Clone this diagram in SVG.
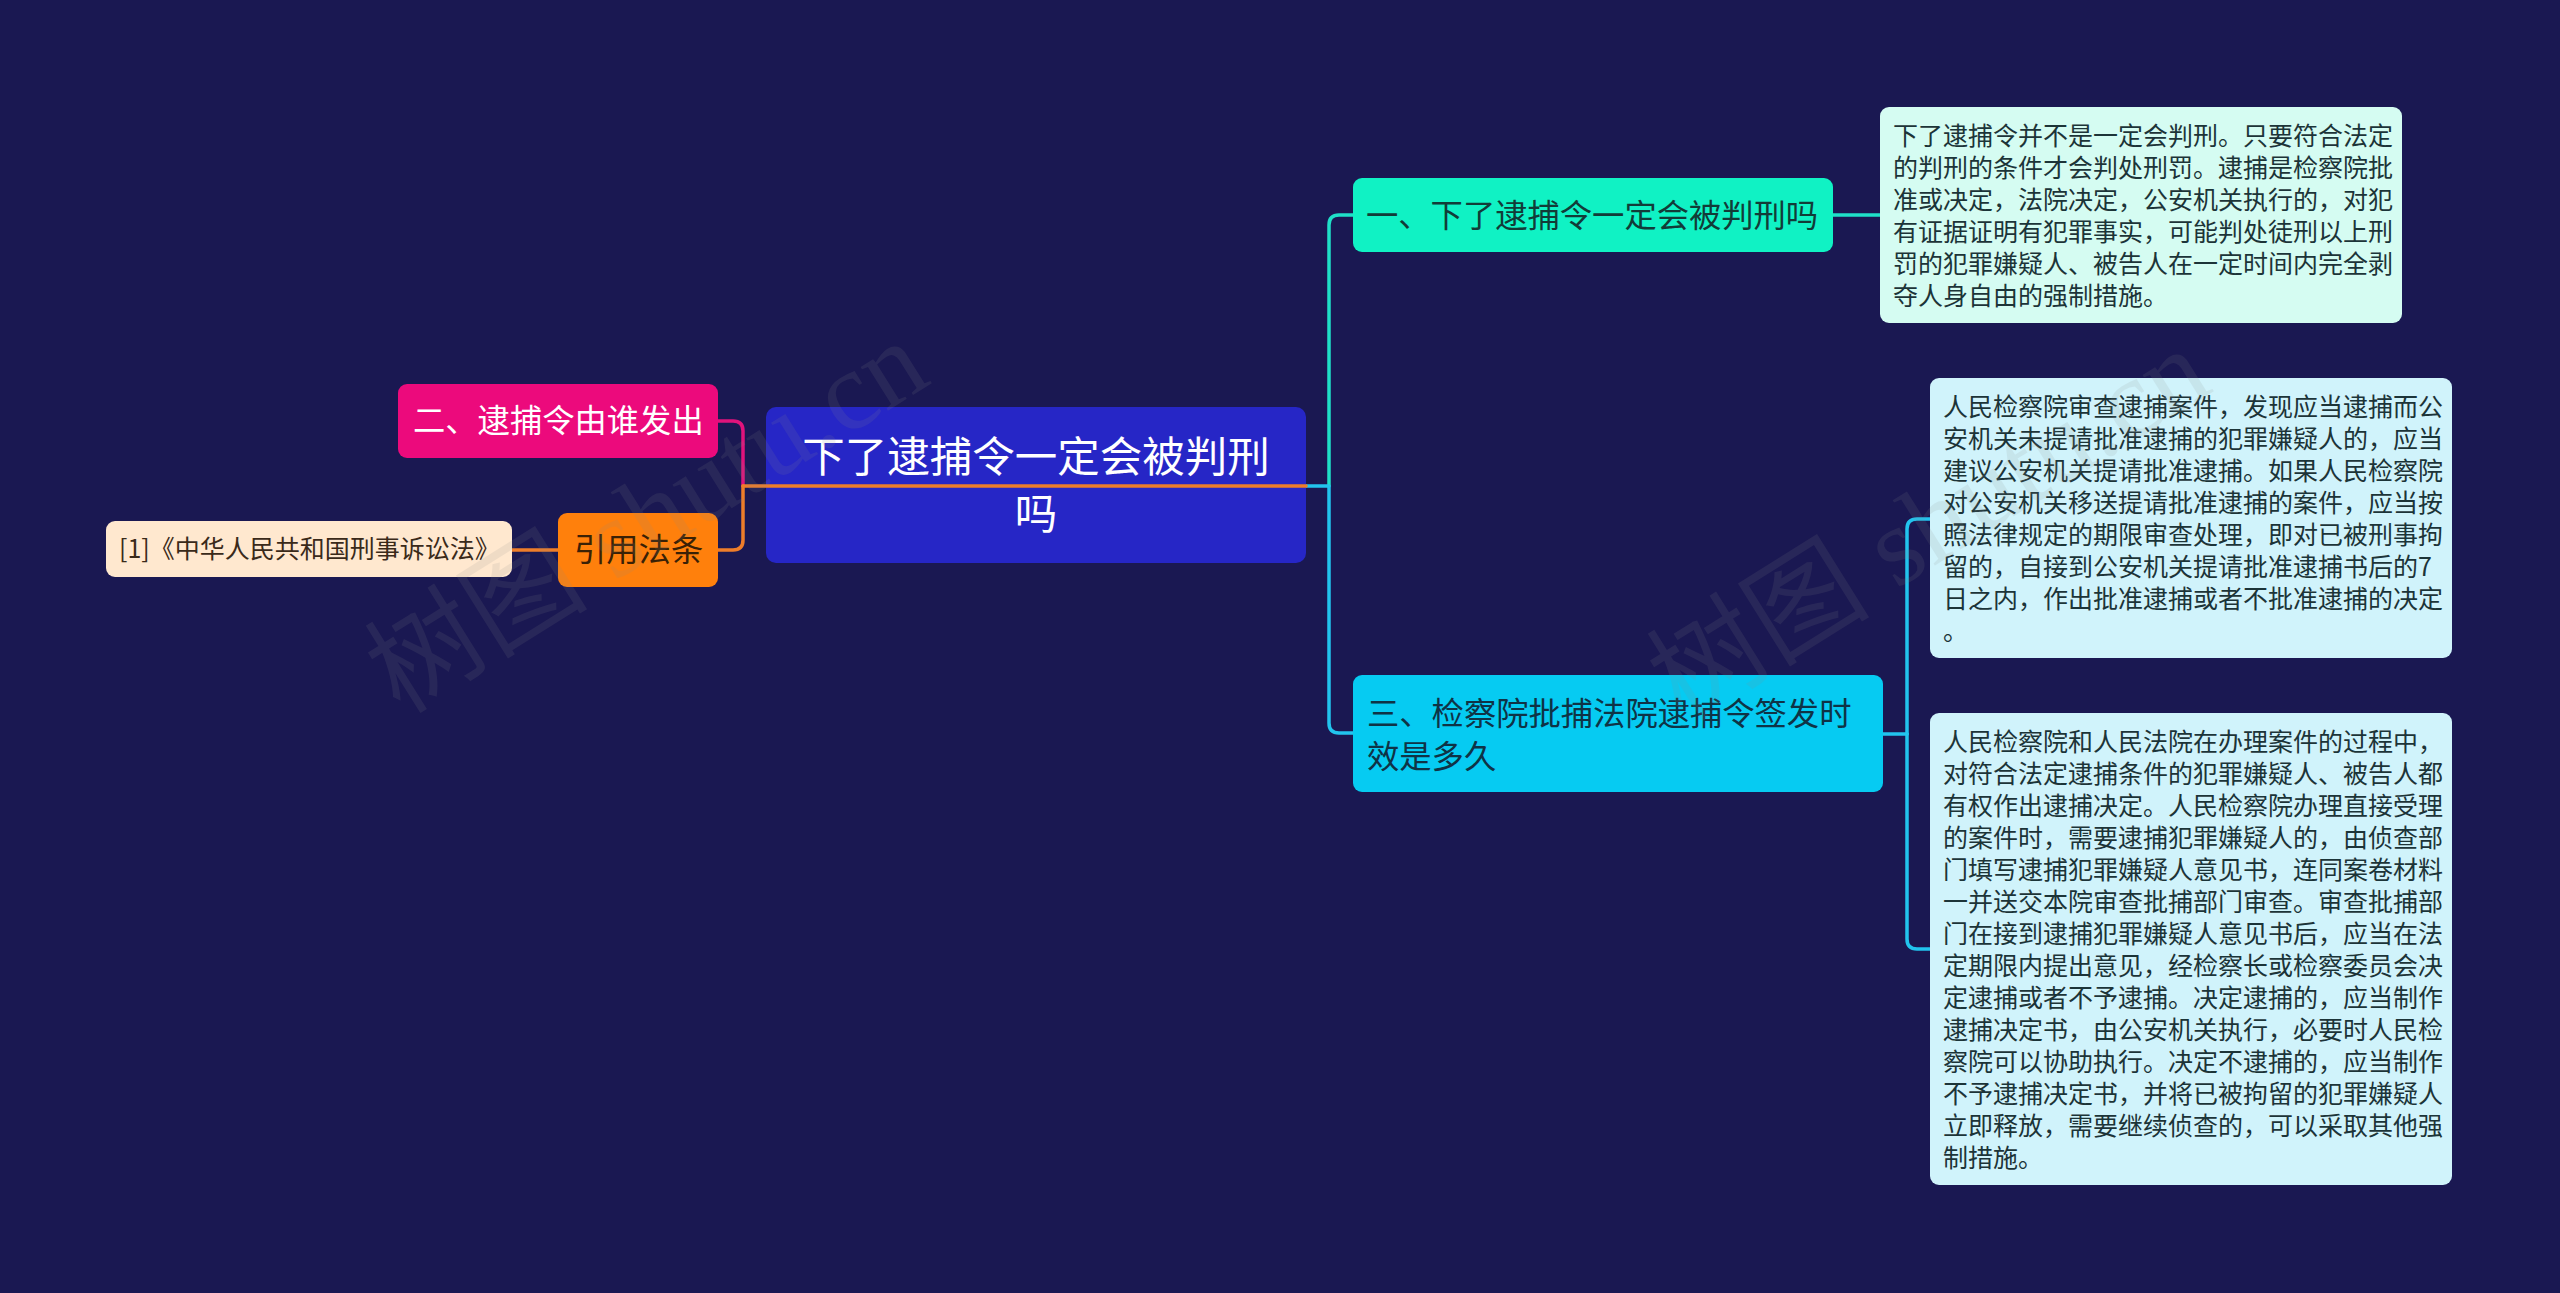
<svg xmlns="http://www.w3.org/2000/svg" width="2560" height="1293" viewBox="0 0 2560 1293">
<style>
text{font-family:"Noto Sans CJK SC","Noto Sans",sans-serif}
.c{fill:none;stroke-width:3.5;stroke-linejoin:round;stroke-linecap:round}
.d{font-size:25px;fill:#1c3438}
.n{font-size:32.3px}
.wm{font-family:"Liberation Serif","Noto Sans CJK SC",serif;font-size:112px;fill:#8a8a8a;opacity:0.13}
</style>
<rect width="2560" height="1293" fill="#1a1852"/>
<g id="connectors">
<path class="c" stroke="#e0137c" d="M743 486 L743 431 Q743 421 733 421 L718 421"/>
<path class="c" stroke="#ee7d2a" d="M743 486 L743 540 Q743 550 733 550 L718 550"/>
<path class="c" stroke="#ee7d2a" d="M512 550 L558 550"/>
<path class="c" stroke="#1fe0c8" d="M1329 486 L1329 225 Q1329 215 1339 215 L1353 215"/>
<path class="c" stroke="#1fe0c8" d="M1833 215 L1880 215"/>
<path class="c" stroke="#22c4ee" d="M1306 486 L1329 486 L1329 723 Q1329 733 1339 733 L1353 733"/>
<path class="c" stroke="#22c4ee" d="M1883 734 L1907 734"/>
<path class="c" stroke="#22c4ee" d="M1907 734 L1907 529 Q1907 519 1917 519 L1930 519"/>
<path class="c" stroke="#22c4ee" d="M1907 734 L1907 939 Q1907 949 1917 949 L1930 949"/>
</g>
<g id="root">
<rect x="766" y="407" width="540" height="156" rx="10" fill="#2626c6"/>
<text x="1036" y="472" font-size="42.5" fill="#ffffff" text-anchor="middle">下了逮捕令一定会被判刑</text>
<text x="1036" y="529" font-size="42.5" fill="#ffffff" text-anchor="middle">吗</text>
</g>
<path class="c" stroke="#ee7d2a" d="M743 486 L1306 486"/>
<g id="node1">
<rect x="1353" y="178" width="480" height="74" rx="9" fill="#10f2c4"/>
<text class="n" x="1366" y="227" fill="#123c38">一、下了逮捕令一定会被判刑吗</text>
</g>
<g id="node2">
<rect x="398" y="384" width="320" height="74" rx="9" fill="#ec0a7c"/>
<text class="n" x="413" y="432" fill="#ffffff">二、逮捕令由谁发出</text>
</g>
<g id="node3">
<rect x="1353" y="675" width="530" height="117" rx="9" fill="#06cbf2"/>
<text class="n" x="1367" y="725" fill="#0f3346">三、检察院批捕法院逮捕令签发时</text>
<text class="n" x="1367" y="768" fill="#0f3346">效是多久</text>
</g>
<g id="node-cite">
<rect x="558" y="513" width="160" height="74" rx="9" fill="#ff800c"/>
<text class="n" x="574" y="561" fill="#3a2106">引用法条</text>
</g>
<g id="node-law">
<rect x="106" y="521" width="406" height="56" rx="9" fill="#ffe8cf"/>
<text x="119" y="558" font-size="25" fill="#3a2a1a">[1]《中华人民共和国刑事诉讼法》</text>
</g>
<g id="desc1">
<rect x="1880" y="107" width="522" height="216" rx="9" fill="#d5fcf2"/>
<text class="d" x="1893" y="145">下了逮捕令并不是一定会判刑。只要符合法定</text>
<text class="d" x="1893" y="177">的判刑的条件才会判处刑罚。逮捕是检察院批</text>
<text class="d" x="1893" y="209">准或决定，法院决定，公安机关执行的，对犯</text>
<text class="d" x="1893" y="241">有证据证明有犯罪事实，可能判处徒刑以上刑</text>
<text class="d" x="1893" y="273">罚的犯罪嫌疑人、被告人在一定时间内完全剥</text>
<text class="d" x="1893" y="305">夺人身自由的强制措施。</text>
</g>
<g id="desc2">
<rect x="1930" y="378" width="522" height="280" rx="9" fill="#d0f3fb"/>
<text class="d" x="1943" y="416">人民检察院审查逮捕案件，发现应当逮捕而公</text>
<text class="d" x="1943" y="448">安机关未提请批准逮捕的犯罪嫌疑人的，应当</text>
<text class="d" x="1943" y="480">建议公安机关提请批准逮捕。如果人民检察院</text>
<text class="d" x="1943" y="512">对公安机关移送提请批准逮捕的案件，应当按</text>
<text class="d" x="1943" y="544">照法律规定的期限审查处理，即对已被刑事拘</text>
<text class="d" x="1943" y="576">留的，自接到公安机关提请批准逮捕书后的7</text>
<text class="d" x="1943" y="608">日之内，作出批准逮捕或者不批准逮捕的决定</text>
<text class="d" x="1943" y="640">。</text>
</g>
<g id="desc3">
<rect x="1930" y="713" width="522" height="472" rx="9" fill="#d0f3fb"/>
<text class="d" x="1943" y="751">人民检察院和人民法院在办理案件的过程中，</text>
<text class="d" x="1943" y="783">对符合法定逮捕条件的犯罪嫌疑人、被告人都</text>
<text class="d" x="1943" y="815">有权作出逮捕决定。人民检察院办理直接受理</text>
<text class="d" x="1943" y="847">的案件时，需要逮捕犯罪嫌疑人的，由侦查部</text>
<text class="d" x="1943" y="879">门填写逮捕犯罪嫌疑人意见书，连同案卷材料</text>
<text class="d" x="1943" y="911">一并送交本院审查批捕部门审查。审查批捕部</text>
<text class="d" x="1943" y="943">门在接到逮捕犯罪嫌疑人意见书后，应当在法</text>
<text class="d" x="1943" y="975">定期限内提出意见，经检察长或检察委员会决</text>
<text class="d" x="1943" y="1007">定逮捕或者不予逮捕。决定逮捕的，应当制作</text>
<text class="d" x="1943" y="1039">逮捕决定书，由公安机关执行，必要时人民检</text>
<text class="d" x="1943" y="1071">察院可以协助执行。决定不逮捕的，应当制作</text>
<text class="d" x="1943" y="1103">不予逮捕决定书，并将已被拘留的犯罪嫌疑人</text>
<text class="d" x="1943" y="1135">立即释放，需要继续侦查的，可以采取其他强</text>
<text class="d" x="1943" y="1167">制措施。</text>
</g>
<g id="watermarks">
<text class="wm" x="645" y="555" text-anchor="middle" transform="rotate(-32 645 514)">树图 shutu.cn</text>
<text class="wm" x="1927" y="563" text-anchor="middle" transform="rotate(-32 1927 522)">树图 shutu.cn</text>
</g>
</svg>
